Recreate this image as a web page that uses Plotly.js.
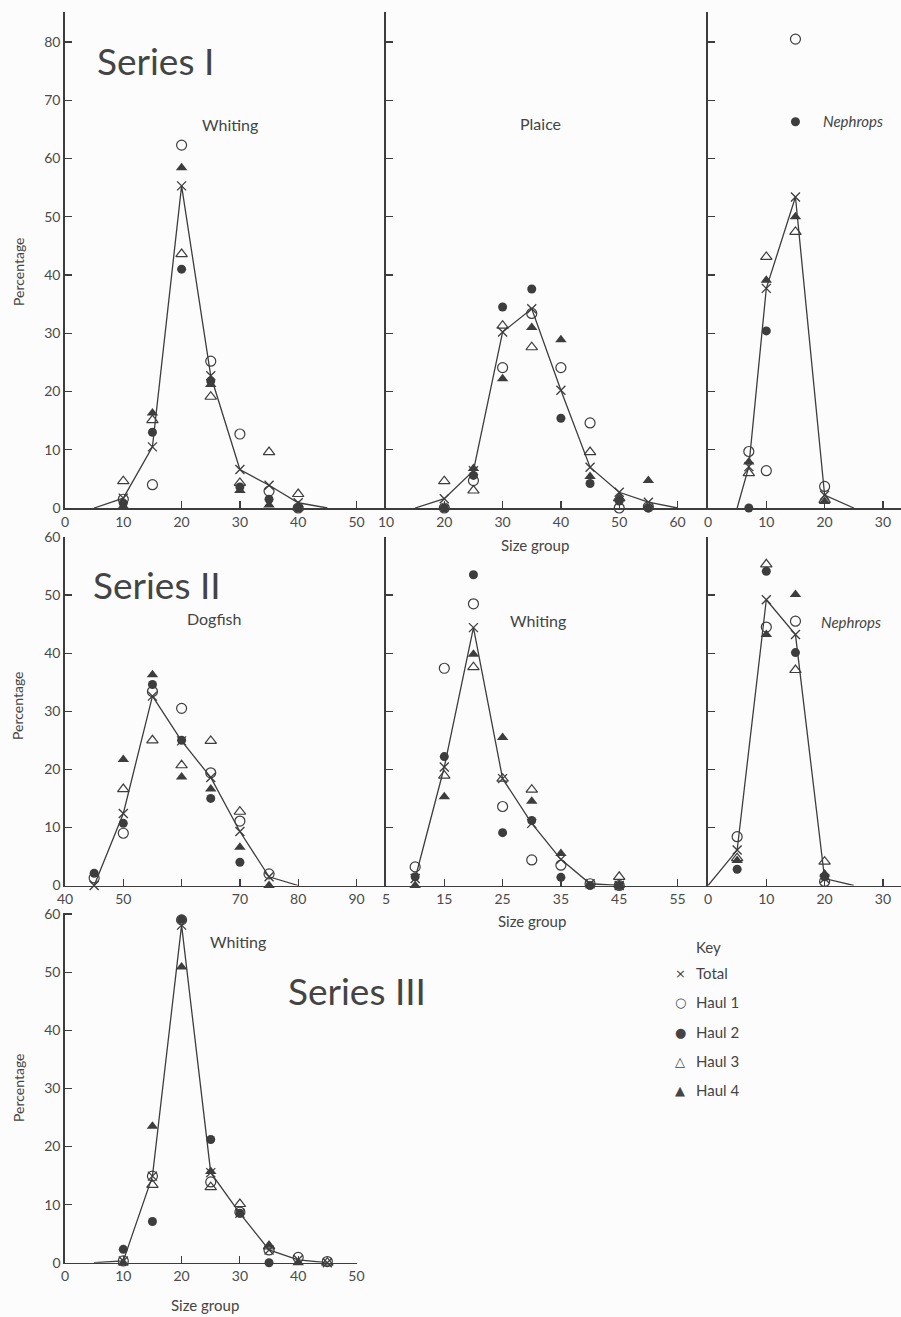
<!DOCTYPE html>
<html>
<head>
<meta charset="utf-8">
<script src="https://cdn.plot.ly/plotly-3.0.1.min.js"></script>
<style>html,body{margin:0;padding:0;background:#fcfcfc;}#chart{width:901px;height:1317px;}</style>
</head>
<body>
<div id="chart"></div>
<script>
// ---------- DATA ----------
// Series I – Whiting
const s1WhitingX      = [10, 15, 20, 25, 30, 35, 40];
const s1WhitingTotal  = [1.7, 10.5, 55.3, 22.7, 6.6, 3.9, 0.9];
const s1WhitingHaul1  = [1.5, 4.0, 62.3, 25.2, 12.7, 2.9, 0];
const s1WhitingHaul2  = [0.8, 13.0, 41.0, 21.8, 3.6, 1.5, 0];
const s1WhitingHaul3  = [4.6, 15.1, 43.6, 19.1, 4.3, 9.6, 2.4];
const s1WhitingHaul4  = [0.3, 16.3, 58.4, 21.2, 3.0, 0.5, 0];
const s1WhitingEnds   = [5, 45];
// Series I – Plaice
const s1PlaiceX       = [20, 25, 30, 35, 40, 45, 50, 55];
const s1PlaiceTotal   = [1.6, 6.4, 30.2, 34.2, 20.2, 7.0, 2.7, 1.0];
const s1PlaiceHaul1   = [0, 4.7, 24.1, 33.4, 24.1, 14.6, 0, 0.2];
const s1PlaiceHaul2   = [0, 5.6, 34.5, 37.6, 15.4, 4.2, 1.2, 0];
const s1PlaiceHaul3   = [4.6, 3.0, 31.3, 27.6, null, 9.6, 1.7, null];
const s1PlaiceHaul4   = [null, 6.8, 22.2, 31.0, 28.9, 5.4, 1.6, 4.7];
const s1PlaiceEnds    = [15, 60];
// Series I – Nephrops
const s1NephropsX     = [7, 10, 15, 20];
const s1NephropsTotal = [7.1, 37.7, 53.4, 2.2];
const s1NephropsHaul1 = [9.7, 6.4, 80.5, 3.7];
const s1NephropsHaul2 = [0, 30.4, 66.3, null];
const s1NephropsHaul3 = [6.0, 43.1, 47.4, 1.4];
const s1NephropsHaul4 = [7.9, 39.1, 50.0, 1.1];
const s1NephropsEnds  = [5, 25];
// Series II – Dogfish
const s2DogfishX      = [45, 50, 55, 60, 65, 70, 75];
const s2DogfishTotal  = [0, 12.4, 32.6, 24.9, 18.6, 9.3, 1.5];
const s2DogfishHaul1  = [1.3, 9.0, 33.4, 30.5, 19.4, 11.1, 2.0];
const s2DogfishHaul2  = [2.1, 10.7, 34.6, 25.0, 15.0, 4.0, null];
const s2DogfishHaul3  = [null, 16.6, 25.0, 20.7, 24.9, 12.7, null];
const s2DogfishHaul4  = [null, 21.7, 36.3, 18.7, 16.6, 6.6, 0];
const s2DogfishEnds   = [null, 80];
// Series II – Whiting
const s2WhitingX      = [10, 15, 20, 25, 30, 35, 40, 45];
const s2WhitingTotal  = [1.2, 20.4, 44.4, 18.4, 10.7, 4.5, 0.3, 0];
const s2WhitingHaul1  = [3.2, 37.4, 48.5, 13.6, 4.4, 3.5, 0.3, 0];
const s2WhitingHaul2  = [1.5, 22.2, 53.5, 9.1, 11.2, 1.4, 0, 0];
const s2WhitingHaul3  = [null, 18.9, 37.6, 18.4, 16.5, null, null, 1.5];
const s2WhitingHaul4  = [0, 15.3, 39.8, 25.5, 14.5, 5.5, null, 0];
const s2WhitingEnds   = [null, null];
// Series II – Nephrops
const s2NephropsX     = [5, 10, 15, 20];
const s2NephropsTotal = [6.1, 49.2, 43.2, 1.2];
const s2NephropsHaul1 = [8.4, 44.5, 45.5, 0.7];
const s2NephropsHaul2 = [2.8, 54.1, 40.1, 1.5];
const s2NephropsHaul3 = [4.7, 55.3, 37.1, 4.1];
const s2NephropsHaul4 = [4.3, 43.2, 50.1, 2.0];
const s2NephropsEnds  = [0, 25];
// Series III – Whiting
const s3WhitingX      = [10, 15, 20, 25, 30, 35, 40, 45];
const s3WhitingTotal  = [0.3, 14.9, 58.1, 15.5, 8.5, 2.2, 0.5, 0];
const s3WhitingHaul1  = [0.3, 14.9, 59.0, 13.9, 8.7, 2.2, 0.9, 0.2];
const s3WhitingHaul2  = [2.3, 7.1, 59.1, 21.2, 8.5, 0, null, null];
const s3WhitingHaul3  = [null, 13.4, 60.7, 13.0, 10.1, 2.8, null, 0];
const s3WhitingHaul4  = [0, 23.5, 50.9, 15.7, null, 3.0, 0, null];
const s3WhitingEnds   = [5, null];

// tick labels
const row1TicksP1 = [0, 10, 20, 30, 40, 50];
const row1TicksP2 = [10, 20, 30, 40, 50, 60];
const row1TicksP3 = [0, 10, 20, 30];
const row2TicksP1 = [40, 50, 60, 70, 80, 90];
const row2TextP1  = ['40', '50', '', '70', '80', '90'];
const row2TicksP2 = [5, 15, 25, 35, 45, 55];
const row2TicksP3 = [0, 10, 20, 30];
const row3Ticks   = [0, 10, 20, 30, 40, 50];

const keyLabels  = ['Total', 'Haul 1', 'Haul 2', 'Haul 3', 'Haul 4'];
const keySymbols = ['×', '○', '●', '△', '▲'];

// ---------- LAYOUT HELPERS ----------
const W = 901, H = 1317;
const ink = '#3d3d3d';
const FONT = 'Lato, "Open Sans", sans-serif';
const fx = p => p / W;
const fy = p => 1 - p / H;

const panels = [
  {n:'',  x:s1WhitingX,  tot:s1WhitingTotal,  h:[s1WhitingHaul1,s1WhitingHaul2,s1WhitingHaul3,s1WhitingHaul4], ends:s1WhitingEnds,
   dx:[65,386], dy:[12,508], rx:[0,55.06], ry:[0,85.15], tv:row1TicksP1, lab:true},
  {n:'2', x:s1PlaiceX,   tot:s1PlaiceTotal,   h:[s1PlaiceHaul1,s1PlaiceHaul2,s1PlaiceHaul3,s1PlaiceHaul4], ends:s1PlaiceEnds,
   dx:[386,708], dy:[12,508], rx:[10,65.23], ry:[0,85.15], tv:row1TicksP2, lab:false},
  {n:'3', x:s1NephropsX, tot:s1NephropsTotal, h:[s1NephropsHaul1,s1NephropsHaul2,s1NephropsHaul3,s1NephropsHaul4], ends:s1NephropsEnds,
   dx:[708,901], dy:[12,508], rx:[0,33.1], ry:[0,85.15], tv:row1TicksP3, lab:false},
  {n:'4', x:s2DogfishX,  tot:s2DogfishTotal,  h:[s2DogfishHaul1,s2DogfishHaul2,s2DogfishHaul3,s2DogfishHaul4], ends:s2DogfishEnds,
   dx:[65,386], dy:[537,885.5], rx:[40,95.06], ry:[0,60], tv:row2TicksP1, tt:row2TextP1, lab:true},
  {n:'5', x:s2WhitingX,  tot:s2WhitingTotal,  h:[s2WhitingHaul1,s2WhitingHaul2,s2WhitingHaul3,s2WhitingHaul4], ends:s2WhitingEnds,
   dx:[386,708], dy:[537,885.5], rx:[5,60.23], ry:[0,60], tv:row2TicksP2, lab:false},
  {n:'6', x:s2NephropsX, tot:s2NephropsTotal, h:[s2NephropsHaul1,s2NephropsHaul2,s2NephropsHaul3,s2NephropsHaul4], ends:s2NephropsEnds,
   dx:[708,901], dy:[537,885.5], rx:[0,33.1], ry:[0,60], tv:row2TicksP3, lab:false},
  {n:'7', x:s3WhitingX,  tot:s3WhitingTotal,  h:[s3WhitingHaul1,s3WhitingHaul2,s3WhitingHaul3,s3WhitingHaul4], ends:s3WhitingEnds,
   dx:[65,357], dy:[913,1262.7], rx:[0,50.09], ry:[0,60.19], tv:row3Ticks, lab:true}
];

const haulStyles = [
  {symbol:'circle-open',      size:10, lw:1.2},
  {symbol:'circle',           size:9,  lw:0},
  {symbol:'triangle-up-open', size:10, lw:1.2},
  {symbol:'triangle-up',      size:10, lw:0}
];

const traces = [];
const layout = {
  width: W, height: H,
  margin: {l:0, r:0, t:0, b:0},
  paper_bgcolor: '#fcfcfc',
  plot_bgcolor: 'rgba(0,0,0,0)',
  showlegend: false,
  font: {family: FONT, color: ink},
  annotations: []
};

panels.forEach(p => {
  const xa = 'x' + p.n, ya = 'y' + p.n;
  // total line (with end points on the axis)
  const lx = [], ly = [];
  if (p.ends[0] !== null) { lx.push(p.ends[0]); ly.push(0); }
  p.x.forEach((v, i) => { lx.push(v); ly.push(p.tot[i]); });
  if (p.ends[1] !== null) { lx.push(p.ends[1]); ly.push(0); }
  traces.push({type:'scatter', mode:'lines', x:lx, y:ly, xaxis:xa, yaxis:ya,
    line:{color:ink, width:1.3}, cliponaxis:false, hoverinfo:'skip'});
  p.h.forEach((arr, k) => {
    const s = haulStyles[k];
    traces.push({type:'scatter', mode:'markers', x:p.x, y:arr, xaxis:xa, yaxis:ya,
      cliponaxis:false, name:keyLabels[k+1],
      marker:{symbol:s.symbol, size:s.size, color:ink, line:{width:s.lw, color:ink}}});
  });
  traces.push({type:'scatter', mode:'markers', x:p.x, y:p.tot, xaxis:xa, yaxis:ya,
    cliponaxis:false, name:keyLabels[0],
    marker:{symbol:'x-thin-open', size:9, color:ink, line:{width:1.3, color:ink}}});

  const common = {showline:true, linecolor:ink, linewidth:1.7, ticks:'inside', ticklen:7,
    tickwidth:1.2, tickcolor:ink, showgrid:false, zeroline:false,
    tickfont:{family:FONT, size:14, color:'#4a4a4a'}, fixedrange:true};
  layout['xaxis' + p.n] = Object.assign({}, common, {
    domain:[fx(p.dx[0]), fx(p.dx[1])], range:p.rx, anchor:ya,
    tickmode:'array', tickvals:p.tv, ticktext:p.tt || p.tv.map(String)
  });
  layout['yaxis' + p.n] = Object.assign({}, common, {
    domain:[fy(p.dy[1]), fy(p.dy[0])], range:p.ry, anchor:xa,
    tick0:0, dtick:10, showticklabels:p.lab
  });
});

// ---------- TEXT ----------
function note(text, x, y, size, extra) {
  layout.annotations.push(Object.assign({
    text:text, xref:'paper', yref:'paper', x:fx(x), y:fy(y),
    xanchor:'center', yanchor:'middle', showarrow:false,
    font:{family:FONT, size:size, color:'#444'}
  }, extra || {}));
}
note('Series I', 155, 61, 37);
note('Series II', 157, 584, 37);
note('Series III', 357, 991, 37);
note('Whiting', 230, 125, 16);
note('Plaice', 540, 123, 16);
note('<i>Nephrops</i>', 853, 121, 15);
note('Dogfish', 214, 618, 16);
note('Whiting', 538, 620, 16);
note('<i>Nephrops</i>', 851, 622, 15);
note('Whiting', 238, 941, 16);
note('Size group', 535, 545, 15);
note('Size group', 532, 921, 15);
note('Size group', 205, 1305, 15);
note('Percentage', 18, 272, 14, {textangle:-90});
note('Percentage', 18, 706, 14, {textangle:-90});
note('Percentage', 18, 1088, 14, {textangle:-90});

// key
note('Key', 694, 947, 15, {xanchor:'left'});
const keyRows = [973, 1002, 1032, 1061, 1090];
keyLabels.forEach((lab, i) => {
  note(keySymbols[i], 680, keyRows[i], 13, {font:{family:'DejaVu Sans', size:13, color:'#444'}});
  note(lab, 694, keyRows[i], 15, {xanchor:'left'});
});

Plotly.newPlot('chart', traces, layout, {displayModeBar:false, staticPlot:true});
</script>
</body>
</html>
